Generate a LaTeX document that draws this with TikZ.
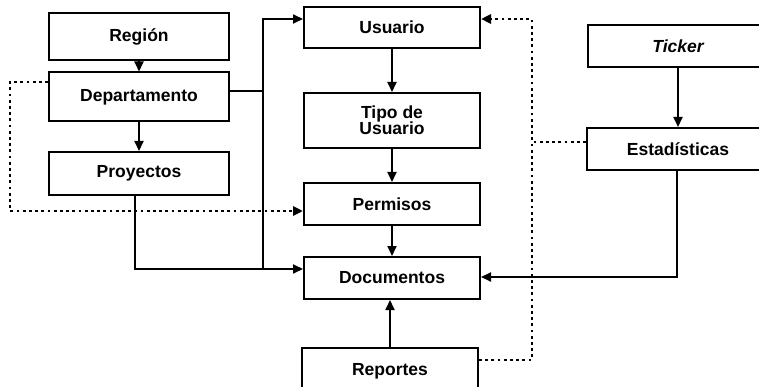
\documentclass[tikz,border=0pt]{standalone}
\usepackage{fontspec}
\setmainfont{Liberation Sans}
\usetikzlibrary{arrows.meta}
\begin{document}
\begin{tikzpicture}[x=1pt,y=-1pt,
  box/.style={draw,line width=2pt,rectangle,inner sep=0pt,align=center,
    font=\fontsize{17.5}{19}\selectfont\bfseries},
  conn/.style={line width=1.8pt},
  arr/.style={-{Triangle[length=10pt,width=9pt]}},
  dotline/.style={line width=2.8pt,dash pattern=on 2.8pt off 3.4pt}]
\useasboundingbox (0,0) rectangle (759,387);
% left column
\node[box,minimum width=180pt,minimum height=47pt] (reg) at (139,36.5) {Región};
\node[box,minimum width=180pt,minimum height=49pt] (dep) at (139,97) {Departamento};
\node[box,minimum width=180pt,minimum height=43pt] (pro) at (139,173.5) {Proyectos};
% middle column
\node[box,minimum width=176pt,minimum height=41pt] (usu) at (392,27.5) {Usuario};
\node[box,minimum width=176pt,minimum height=55pt] (tip) at (392,120.5) {Tipo de\\[-3pt]Usuario};
\node[box,minimum width=176pt,minimum height=42pt] (per) at (392,204) {Permisos};
\node[box,minimum width=176pt,minimum height=42pt] (doc) at (392,278) {Documentos};
\node[box,minimum width=176pt,minimum height=47pt] (rep) at (390,371.5) {Reportes};
% right column
\node[box,minimum width=180pt,minimum height=42pt] (tic) at (678,46) {\itshape Ticker};
\node[box,minimum width=182pt,minimum height=42pt] (est) at (678,149) {Estadísticas};
% junction coordinates
\coordinate (jTop) at (263,19);
\coordinate (jDep) at (263,91);
\coordinate (jDoc) at (263,269);
\coordinate (pBot) at (135,269);
\coordinate (eB) at (677,277);
\coordinate (dl1) at (10,82);
\coordinate (dl2) at (10,211);
\coordinate (dr1) at (532,360);
\coordinate (dr2) at (532,19);
\coordinate (de) at (532,142);
% solid connectors
\draw[conn,arr] (reg) -- (dep);
\draw[conn,arr] (dep) -- (pro);
\draw[conn,arr] (usu) -- (tip);
\draw[conn,arr] (tip) -- (per);
\draw[conn,arr] (per) -- (doc);
\draw[conn,arr] (rep.north) -- (rep.north |- doc.south);
\draw[conn,arr] (tic) -- (est);
\draw[conn] (dep.east |- jDep) -- (jDep);
\draw[conn,arr] (jDoc) -- (jTop) -- (usu.west |- jTop);
\draw[conn,arr] (pro.south -| pBot) -- (pBot) -- (doc.west |- pBot);
\draw[conn,arr] (est.south -| eB) -- (eB) -- (doc.east |- eB);
% dotted connectors
\draw[dotline,arr] (dep.west |- dl1) -- (dl1) -- (dl2) -- (per.west |- dl2);
\draw[dotline,arr] (rep.east |- dr1) -- (dr1) -- (dr2) -- (usu.east |- dr2);
\draw[dotline] (est.west |- de) -- (de);
\end{tikzpicture}
\end{document}
